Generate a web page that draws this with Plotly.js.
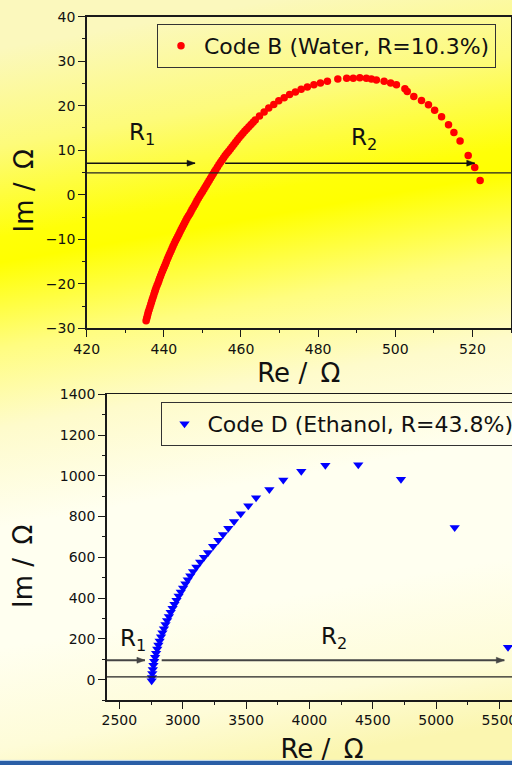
<!DOCTYPE html>
<html>
<head>
<meta charset="utf-8">
<script src="https://cdn.plot.ly/plotly-3.0.1.min.js"></script>
<style>
html,body{margin:0;padding:0;overflow:hidden;width:512px;height:765px;}
#chart{width:545px;height:765px;
background:linear-gradient(170deg,#fbf8bd 5.6%,#fdfb7a 17%,#ffff08 27.6%,#ffff00 30.5%,#fffd80 40.4%,#fefbcb 49.7%,#fffff0 61.3%,#fffff0 75.2%,#fefcd8 86.9%,#fbf6b0 94.4%);}
</style>
</head>
<body>
<div id="chart"></div>
<script>
// ---- Data: Code B (Water) ----
const waterRe = [435.4,435.55,435.7,435.85,436.0,436.2,436.4,436.6,436.8,437.0,
  437.2,437.4,437.6,437.8,438.0,438.25,438.5,438.7,438.9,439.15,
  439.4,439.65,439.9,440.15,440.4,440.65,440.9,441.15,441.4,441.65,
  441.9,442.15,442.4,442.7,443.0,443.3,443.6,443.9,444.2,444.5,
  444.8,445.1,445.4,445.7,446.0,446.35,446.7,447.0,447.3,447.65,
  448.0,448.3,448.6,448.95,449.3,449.65,450.0,450.35,450.7,451.05,
  451.4,451.75,452.1,452.45,452.8,453.15,453.5,453.9,454.3,454.7,
  455.1,455.5,455.9,456.35,456.8,457.25,457.7,458.15,458.6,459.05,
  459.5,460.0,460.5,461.0,461.5,462.05,462.6,463.15,463.7,
  464.8,466.0,467.2,468.5,469.8,471.2,472.6,474.1,475.6,477.2,478.9,480.6,482.4,
  485.1,487.4,489.1,490.8,492.5,493.8,495.1,497.1,498.8,500.3,502.5,503.1,
  504.8,506.8,508.6,510.2,512.0,513.8,515.2,516.8,518.9,520.6,522.0];
const waterIm = [-28.3,-27.8,-27.3,-26.8,-26.3,-25.75,-25.2,-24.65,-24.1,-23.55,
  -23.0,-22.45,-21.9,-21.4,-20.9,-20.35,-19.8,-19.3,-18.8,-18.25,
  -17.7,-17.15,-16.6,-16.1,-15.6,-15.05,-14.5,-14.0,-13.5,-13.0,
  -12.5,-12.0,-11.5,-10.95,-10.4,-9.9,-9.4,-8.85,-8.3,-7.8,
  -7.3,-6.8,-6.3,-5.8,-5.3,-4.8,-4.3,-3.8,-3.3,-2.8,
  -2.3,-1.8,-1.3,-0.8,-0.3,0.2,0.7,1.2,1.7,2.2,
  2.7,3.2,3.7,4.2,4.7,5.2,5.7,6.25,6.8,7.3,
  7.8,8.3,8.8,9.3,9.8,10.3,10.8,11.3,11.8,12.3,
  12.8,13.3,13.8,14.3,14.8,15.3,15.8,16.3,16.8,
  17.7,18.6,19.5,20.3,21.1,21.8,22.5,23.1,23.7,24.2,24.7,25.1,25.5,
  26.0,26.2,26.2,26.3,26.2,26.0,25.8,25.5,25.1,24.7,23.8,23.2,
  22.1,21.2,20.2,19.0,17.5,15.7,14.0,12.1,8.8,6.1,3.2];

// ---- Data: Code D (Ethanol) ----
const ethanolRe = [2755,2757,2760,2764,2769,2775,2782,2790,2799,2808,
  2818,2829,2840,2852,2864,2877,2891,2905,2920,2935,
  2951,2968,2985,3003,3021,3040,3060,3082,3108,3138,
  3168,3200,3240,3281,3318,3360,3405,3458,3518,3579,
  3684,3794,3936,4126,4386,4723,5147,5568];
const ethanolIm = [-5,10,30,50,70,90,110,130,150,170,
  190,210,230,250,270,290,310,330,350,370,
  390,410,430,450,470,490,510,530,553,577,
  600,624,654,684,712,743,776,814,853,893,
  933,979,1023,1052,1054,983,746,159];

// ---- Labels / ticks ----
const waterName = 'Code B (Water, R=10.3%)';
const ethanolName = 'Code D (Ethanol, R=43.8%)';
const xTitle = 'Re / \u2009Ω';
const yTitle = 'Im / \u2009Ω';
const topXTicks = [420,440,460,480,500,520];
const topYTicks = [-30,-20,-10,0,10,20,30,40];
const botXTicks = [2500,3000,3500,4000,4500,5000,5500];
const botYTicks = [0,200,400,600,800,1000,1200,1400];

// R1 / R2 guide values (data units)
const topRefIm = 4.9, topArrowIm = 7.1;
const topR1 = [420, 448.1], topR2 = [455.9, 520.6];
const botRefIm = 13, botArrowIm = 95;
const botR1 = [2400, 2702], botR2 = [2834, 5539];

const W = 545, H = 765;
const FONT = '"DejaVu Sans", "Noto Sans", sans-serif';
const px = v => v / W;
const py = v => 1 - v / H;

const traces = [
  {type:'scatter', mode:'markers', x: waterRe, y: waterIm, name: waterName,
   xaxis:'x', yaxis:'y', legend:'legend', showlegend:true,
   marker:{symbol:'circle', size:7.5, color:'#ff0000', line:{width:0}}},
  {type:'scatter', mode:'markers', x: ethanolRe, y: ethanolIm, name: ethanolName,
   xaxis:'x2', yaxis:'y2', legend:'legend2', showlegend:true,
   marker:{symbol:'triangle-down', size:9, color:'#0000ff', line:{width:0}}}
];

const axCommon = {
  showline:true, mirror:true, linecolor:'#1a1a1a', linewidth:1.5,
  ticks:'outside', ticklen:7, tickwidth:1, tickcolor:'#1a1a1a',
  showgrid:false, zeroline:false, tickmode:'array',
  tickfont:{family:FONT, size:14, color:'#111'}
};

// arrows drawn as shapes: a line plus a pixel-sized head
function arrowShapes(xr, yr, x0, x1, yv, color, w) {
  return [
    {type:'line', xref:xr, yref:yr, x0:x0, x1:x1, y0:yv, y1:yv,
     line:{color:color, width:w}},
    {type:'path', xref:xr, yref:yr, xsizemode:'pixel', ysizemode:'pixel',
     xanchor:x1, yanchor:yv, path:'M0,0 L-8,3 L-8,-3 Z',
     fillcolor:color, line:{color:color, width:0.5}}
  ];
}
function rlabel(xr, yr, x, y, sub) {
  return {xref:xr, yref:yr, x:x, y:y, xanchor:'left', yanchor:'middle',
    text:'R<sub>'+sub+'</sub>', showarrow:false,
    font:{family:FONT, size:23, color:'#111'}};
}
function ytitle(ycenterPx) {
  return {xref:'paper', yref:'paper', x:px(23), y:py(ycenterPx),
    xanchor:'center', yanchor:'middle', textangle:-90, showarrow:false,
    text:yTitle, font:ttlFont};
}
const ttlFont = {family:FONT, size:26, color:'#111'};

const layout = {
  width:W, height:H, margin:{l:0,r:0,t:0,b:0},
  paper_bgcolor:'rgba(0,0,0,0)', plot_bgcolor:'rgba(0,0,0,0)',
  font:{family:FONT, color:'#111'},
  showlegend:true,
  xaxis: Object.assign({}, axCommon, {
    domain:[px(86.7), px(511)], range:[420,530], anchor:'y',
    tickvals: topXTicks,
    minor:{ticks:'outside', ticklen:3.5, dtick:10, tick0:420, tickcolor:'#1a1a1a'},
    title:{text:xTitle, font:ttlFont, standoff:8}
  }),
  yaxis: Object.assign({}, axCommon, {
    domain:[py(328.3), py(16.7)], range:[-30,40], anchor:'x',
    tickvals: topYTicks,
    minor:{ticks:'outside', ticklen:3.5, dtick:5, tick0:0, tickcolor:'#1a1a1a'}
  }),
  xaxis2: Object.assign({}, axCommon, {
    domain:[px(106.7), px(537.4)], range:[2400,5800], anchor:'y2',
    tickvals: botXTicks,
    minor:{ticks:'outside', ticklen:3.5, dtick:250, tick0:2500, tickcolor:'#1a1a1a'},
    title:{text:xTitle, font:ttlFont, standoff:12}
  }),
  yaxis2: Object.assign({}, axCommon, {
    domain:[py(700), py(394.3)], range:[-100,1400], anchor:'x2',
    tickvals: botYTicks,
    minor:{ticks:'outside', ticklen:3.5, dtick:100, tick0:0, tickcolor:'#1a1a1a'}
  }),
  legend:{x:px(157), y:py(24), xanchor:'left', yanchor:'top', visible:true,
    bgcolor:'rgba(0,0,0,0)', bordercolor:'#333', borderwidth:1, itemwidth:36,
    font:{family:FONT, size:22, color:'#111'}},
  legend2:{x:px(160.5), y:py(402), xanchor:'left', yanchor:'top', visible:true,
    bgcolor:'rgba(0,0,0,0)', bordercolor:'#333', borderwidth:1, itemwidth:36,
    font:{family:FONT, size:22, color:'#111'}},
  shapes:[
    {type:'line', xref:'x domain', yref:'y', x0:0, x1:1, y0:topRefIm, y1:topRefIm,
     line:{color:'#222', width:1.3}},
    {type:'line', xref:'x2 domain', yref:'y2', x0:0, x1:1, y0:botRefIm, y1:botRefIm,
     line:{color:'#222', width:1.2}},
    ...arrowShapes('x','y', topR1[0], topR1[1], topArrowIm, '#111', 1.5),
    ...arrowShapes('x','y', topR2[0], topR2[1], topArrowIm, '#111', 1.5),
    ...arrowShapes('x2','y2', botR1[0], botR1[1], botArrowIm, '#444', 2),
    ...arrowShapes('x2','y2', botR2[0], botR2[1], botArrowIm, '#444', 2),
    {type:'rect', xref:'paper', yref:'paper', x0:0, x1:1, y0:0, y1:4/H,
     fillcolor:'#2a5ea6', line:{width:0}},
    {type:'line', xref:'paper', yref:'paper', x0:0, x1:1, y0:4.6/H, y1:4.6/H,
     line:{color:'#b8d2ee', width:1}}
  ],
  annotations:[
    ytitle(191.5),
    ytitle(567),
    rlabel('x','y', 430.5, 13.7, '1'),
    rlabel('x','y', 488.1, 12.6, '2'),
    rlabel('x2','y2', 2489, 195, '1'),
    rlabel('x2','y2', 4076, 205, '2')
  ]
};

Plotly.newPlot('chart', traces, layout, {displayModeBar:false, staticPlot:true});
</script>
</body>
</html>
